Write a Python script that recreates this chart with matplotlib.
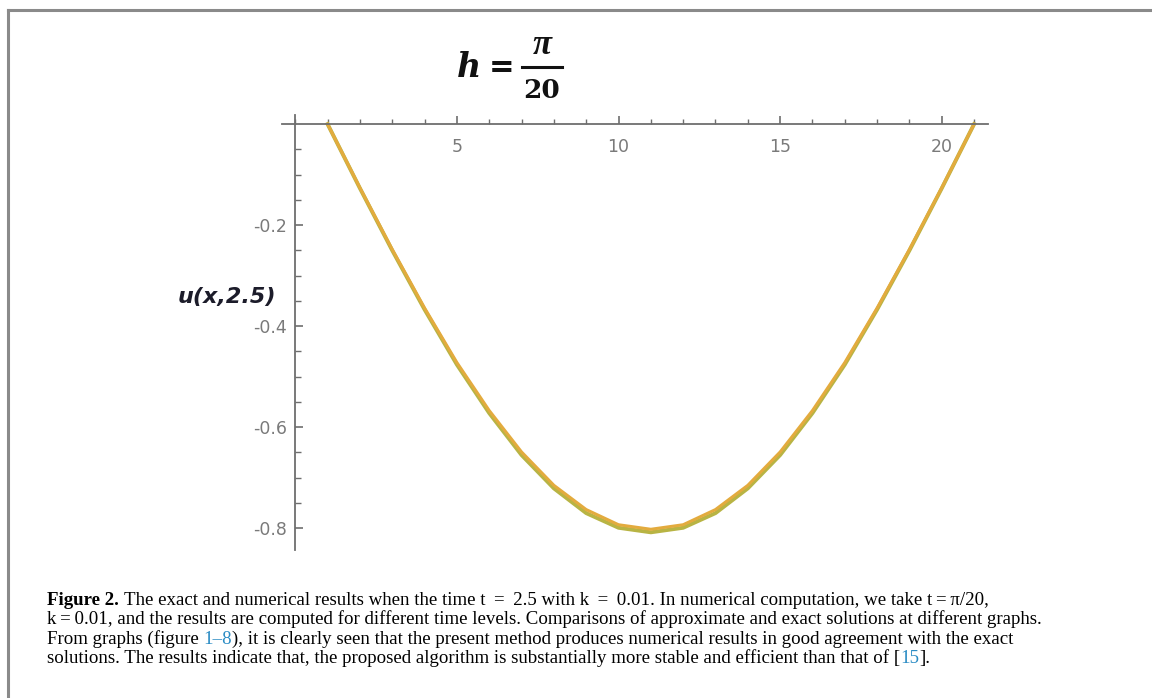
import numpy as np
import matplotlib
matplotlib.use('Agg')
import matplotlib.pyplot as plt
from matplotlib.lines import Line2D
from matplotlib.ticker import MultipleLocator, FixedLocator

W, H = 1152, 698

# values, x = 1..21
x_vals = list(range(1, 22))
u_exact = [0.0, -0.127, -0.250, -0.367, -0.476, -0.572, -0.655, -0.721, -0.770,
           -0.799, -0.808, -0.799, -0.770, -0.721, -0.655, -0.572, -0.476, -0.367,
           -0.250, -0.127, 0.0]
u_numer = [0.0, -0.126, -0.248, -0.364, -0.472, -0.567, -0.649, -0.715, -0.763,
           -0.793, -0.802, -0.793, -0.763, -0.715, -0.649, -0.567, -0.472, -0.364,
           -0.248, -0.126, 0.0]

x_major = [5, 10, 15, 20]
y_major = [-0.2, -0.4, -0.6, -0.8]
y_labels = ['-0.2', '-0.4', '-0.6', '-0.8']

caption = [
    [('Figure 2.', 'bold', 'black', False),
     ('The exact and numerical results when the time t \u2009=\u2009 2.5 with k \u2009=\u2009 0.01. '
      'In numerical computation, we take t\u2009=\u2009\u03c0/20,', 'normal', 'black', True)],
    [('k\u2009=\u20090.01, and the results are computed for different time levels. '
      'Comparisons of approximate and exact solutions at different graphs.', 'normal', 'black', False)],
    [('From graphs (figure', 'normal', 'black', False),
     ('1\u20138', 'normal', '#2b8cc4', True),
     ('), it is clearly seen that the present method produces numerical results '
      'in good agreement with the exact', 'normal', 'black', False)],
    [('solutions. The results indicate that, the proposed algorithm is substantially '
      'more stable and efficient than that of [', 'normal', 'black', False),
     ('15', 'normal', '#2b8cc4', False),
     ('].', 'normal', 'black', False)],
]


def px(x, y):
    return x / W, 1 - y / H


fig = plt.figure(figsize=(W / 100, H / 100), dpi=100)
fig.patch.set_facecolor('white')

# axes box in pixels: left 282, right 988, top 115, bottom 550
ax = fig.add_axes([282 / W, 1 - 550 / H, (988 - 282) / W, (550 - 115) / H])
ax.set_xlim(-0.41, 21.43)
ax.set_ylim(-0.843, 0.018)

ax.plot(x_vals, u_exact, color='#b8b444', lw=2.8, solid_joinstyle='round')
ax.plot(x_vals, u_numer, color='#e3ab3e', lw=2.2, solid_joinstyle='round')

for s in ['top', 'right']:
    ax.spines[s].set_visible(False)
ax.spines['left'].set_position(('data', 0))
ax.spines['bottom'].set_position(('data', 0))
for s in ['left', 'bottom']:
    ax.spines[s].set_color('#6e6e6e')
    ax.spines[s].set_linewidth(1.3)

ax.xaxis.set_major_locator(FixedLocator(x_major))
ax.xaxis.set_minor_locator(MultipleLocator(1))
ax.yaxis.set_major_locator(FixedLocator(y_major))
ax.yaxis.set_minor_locator(FixedLocator([-0.05, -0.1, -0.15, -0.25, -0.3, -0.35,
                                         -0.45, -0.5, -0.55, -0.65, -0.7, -0.75, -0.85]))
ax.set_yticklabels(y_labels)
ax.tick_params(axis='both', which='both', direction='in', color='#6e6e6e',
               labelcolor='#7a7a7a', labelsize=12.5)
ax.tick_params(axis='x', which='major', length=6, width=1.2, pad=10)
ax.tick_params(axis='x', which='minor', length=3.5, width=1.0)
ax.tick_params(axis='y', which='major', length=6, width=1.2, pad=6)
ax.tick_params(axis='y', which='minor', length=4, width=1.0)

# title h = pi/20, built from pieces
tfont = dict(fontweight='bold', color='#111111')
fig.text(*px(469, 77), 'h', fontsize=24, style='italic', family='DejaVu Serif',
         ha='center', va='baseline', **tfont)
fig.text(*px(502, 77), '=', fontsize=22, family='DejaVu Serif',
         ha='center', va='baseline', **tfont)
fig.text(*px(542, 54), '\u03c0', fontsize=25, style='italic', family='Liberation Serif',
         ha='center', va='baseline', **tfont)
fig.text(*px(542, 98), '20', fontsize=19, family='DejaVu Serif',
         ha='center', va='baseline', **tfont)
fig.add_artist(Line2D([522 / W, 562 / W], [1 - 67 / H, 1 - 67 / H],
                      transform=fig.transFigure, color='#111111', lw=2.2))

fig.text(*px(227, 297), 'u(x,2.5)', fontsize=16, fontweight='bold',
         style='italic', ha='center', va='center', color='#1c1c2a')

# frame lines (left and top)
fig.add_artist(Line2D([8 / W, 8 / W], [0, 1 - 10 / H], transform=fig.transFigure,
                      color='#8a8a8a', lw=2.2))
fig.add_artist(Line2D([8 / W, 1], [1 - 10 / H, 1 - 10 / H], transform=fig.transFigure,
                      color='#8a8a8a', lw=2.2))

# caption, drawn run by run
renderer = fig.canvas.get_renderer()
cap_size = 13.6
probe = fig.text(0, 0, 'a a', fontsize=cap_size, family='Liberation Serif')
probe2 = fig.text(0, 0, 'aa', fontsize=cap_size, family='Liberation Serif')
space_w = (probe.get_window_extent(renderer).width
           - probe2.get_window_extent(renderer).width) / W
probe.remove()
probe2.remove()

for i, line in enumerate(caption):
    xf, yf = px(47, 605 + i * 19.3)
    for text, weight, color, gap in line:
        if gap:
            xf += space_w
        t = fig.text(xf, yf, text, fontsize=cap_size, fontweight=weight, color=color,
                     family='Liberation Serif', ha='left', va='baseline')
        xf += t.get_window_extent(renderer).width / W

fig.savefig('out.png', dpi=100)
